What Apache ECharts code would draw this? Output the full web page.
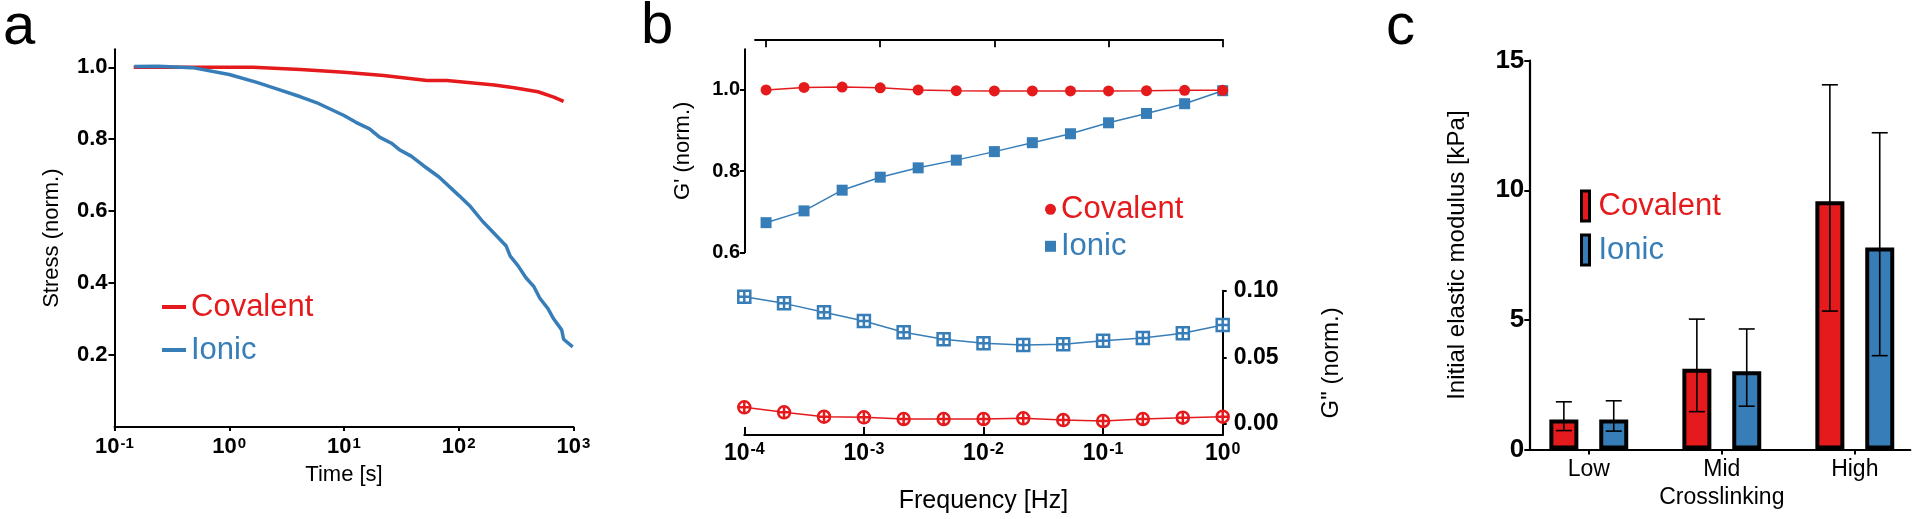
<!DOCTYPE html>
<html><head><meta charset="utf-8">
<script src="https://cdn.jsdelivr.net/npm/echarts@6/dist/echarts.min.js"></script>
<style>html,body{margin:0;padding:0;background:#fff}#c{width:1920px;height:519px}</style>
</head><body><div id="c"></div>
<script>
// ---------- Panel a: stress relaxation ----------
const timeCov   = [0.147, 0.478, 1.0, 1.61, 4.18, 10, 22.1, 53.0, 78.9, 204, 304, 490, 673, 820];
const stressCov = [1.0, 1.0, 1.0, 1.0, 0.994, 0.986, 0.977, 0.963, 0.963, 0.951, 0.943, 0.932, 0.917, 0.905];
const timeIon   = [0.149, 0.239, 0.478, 1.0, 1.74, 2.59, 4.18, 5.74, 10.0, 12.7, 16.7, 20.4, 25.9, 30.4, 38.5, 49.0, 67.3, 100, 127, 161, 204, 259, 281, 329, 385, 452, 509, 597, 673, 789, 820, 984];
const stressIon = [1.002, 1.003, 0.999, 0.980, 0.958, 0.940, 0.918, 0.902, 0.866, 0.847, 0.829, 0.806, 0.789, 0.771, 0.753, 0.727, 0.695, 0.644, 0.612, 0.572, 0.538, 0.503, 0.475, 0.448, 0.415, 0.390, 0.358, 0.330, 0.300, 0.270, 0.244, 0.223];
const timeTicks   = [0.1, 1, 10, 100, 1000];
const stressTicks = [0.2, 0.4, 0.6, 0.8, 1.0];

// ---------- Panel b: frequency sweep ----------
const freq = [0.0001, 0.000215, 0.000464, 0.001, 0.00215, 0.00464, 0.01, 0.0215, 0.0464, 0.1, 0.215, 0.464, 1];
const gpCov  = [1.0, 1.006, 1.007, 1.005, 1.0, 0.998, 0.9975, 0.9975, 0.9975, 0.9975, 0.998, 0.999, 0.999];
const gpIon  = [0.673, 0.702, 0.753, 0.785, 0.808, 0.827, 0.848, 0.870, 0.892, 0.919, 0.942, 0.966, 0.998];
const gppCov = [0.0125, 0.0087, 0.0054, 0.0050, 0.0037, 0.0037, 0.0037, 0.0042, 0.0029, 0.0022, 0.0037, 0.0047, 0.0054];
const gppIon = [0.0955, 0.0905, 0.0838, 0.0773, 0.0688, 0.0635, 0.0605, 0.0592, 0.0598, 0.0625, 0.0645, 0.0680, 0.0742];
const freqTicks = [0.0001, 0.001, 0.01, 0.1, 1];
const gpTicks   = [0.6, 0.8, 1.0];
const gppTicks  = [0, 0.05, 0.10];

// ---------- Panel c: initial elastic modulus ----------
const categories = ['Low', 'Mid', 'High'];
const covMean = [1.16, 3.12, 9.58];
const covLow  = [0.73, 1.46, 5.34];
const covHigh = [1.84, 5.03, 14.07];
const ionMean = [1.16, 3.02, 7.79];
const ionLow  = [0.71, 1.67, 3.62];
const ionHigh = [1.88, 4.65, 12.22];

const RED = '#E41A1C', BLUE = '#377EB8', BLACK = '#000';
const FONT = '"Liberation Sans", Arial, Helvetica, sans-serif';
const BAR_W = 29, BAR_GAP = 0.72, CAP_W = 16;

const zip = (a, b) => a.map((v, i) => [v, b[i]]);
const axLine = (w) => ({show: true, onZero: false, lineStyle: {color: BLACK, width: w}});
const nameStyle = (fs) => ({fontSize: fs, fontFamily: FONT, color: BLACK, fontWeight: 'normal'});
function pow10Label(fs, efs, margin, vals) {
  return {
    show: true, margin: margin, customValues: vals,
    formatter: v => '{b|10}{s|' + Math.round(Math.log10(v)) + '}',
    rich: {
      b: {fontSize: fs, fontWeight: 'bold', fontFamily: FONT, color: BLACK, lineHeight: fs},
      s: {fontSize: efs, fontWeight: 'bold', fontFamily: FONT, color: BLACK, lineHeight: efs, verticalAlign: 'top', padding: [0, 0, 0, 1]}
    }
  };
}
const SQ_CROSS = 'path://M0 0H10V10H0Z M5 0V10 M0 5H10';
const CI_PLUS  = 'path://M0 5A5 5 0 1 0 10 5A5 5 0 1 0 0 5Z M5 0V10 M0 5H10';

function errRender(offset) {
  return function (params, api) {
    const c = api.value(0), lo = api.value(1), hi = api.value(2);
    const pLo = api.coord([c, lo]), pHi = api.coord([c, hi]);
    const x = pLo[0] + offset, h = CAP_W / 2;
    const st = {stroke: BLACK, lineWidth: 1.6};
    return {type: 'group', children: [
      {type: 'line', shape: {x1: x, y1: pLo[1], x2: x, y2: pHi[1]}, style: st},
      {type: 'line', shape: {x1: x - h, y1: pHi[1], x2: x + h, y2: pHi[1]}, style: st},
      {type: 'line', shape: {x1: x - h, y1: pLo[1], x2: x + h, y2: pLo[1]}, style: st}
    ]};
  };
}
const errOffset = BAR_W * (1 + BAR_GAP) / 2;

const chart = echarts.init(document.getElementById('c'), null, {renderer: 'canvas'});
const option = {
  animation: false,
  backgroundColor: '#fff',
  textStyle: {fontFamily: FONT},
  graphic: [
    {type: 'text', x: 3, y: 28, style: {text: 'a', fontSize: 58, fontFamily: FONT, fill: BLACK, verticalAlign: 'middle', textVerticalAlign: 'middle'}},
    {type: 'text', x: 641, y: 27, style: {text: 'b', fontSize: 58, fontFamily: FONT, fill: BLACK, verticalAlign: 'middle', textVerticalAlign: 'middle'}},
    {type: 'text', x: 1386, y: 28, style: {text: 'c', fontSize: 58, fontFamily: FONT, fill: BLACK, verticalAlign: 'middle', textVerticalAlign: 'middle'}}
  ],
  grid: [
    {left: 114.5, top: 49.3, width: 459, height: 377.7, containLabel: false, outerBoundsMode: 'none'},
    {left: 755, top: 49.3, width: 467.7, height: 203, containLabel: false, outerBoundsMode: 'none'},
    {left: 744.3, top: 290.7, width: 478.4, height: 144.3, containLabel: false, outerBoundsMode: 'none'},
    {left: 1522.3, top: 60.7, width: 399, height: 388.8, containLabel: false, outerBoundsMode: 'none'},
    {left: 1529.3, top: 60.7, width: 381, height: 388.8, containLabel: false, outerBoundsMode: 'none'}
  ],
  xAxis: [
    {gridIndex: 0, type: 'log', logBase: 10, min: 0.1, max: 1000,
     name: 'Time [s]', nameLocation: 'middle', nameGap: 37, nameTextStyle: nameStyle(22),
     axisLine: axLine(2), axisTick: {show: true, length: 4, customValues: timeTicks, lineStyle: {color: BLACK, width: 2}},
     axisLabel: pow10Label(22, 15, 9, timeTicks), splitLine: {show: false}, minorTick: {show: false}},
    {gridIndex: 1, type: 'log', logBase: 10, position: 'top', offset: 10, min: 0.00008, max: 1,
     axisLine: axLine(1.8), axisTick: {show: true, inside: true, length: 8, customValues: freqTicks, lineStyle: {color: BLACK, width: 1.8}},
     axisLabel: {show: false}, splitLine: {show: false}, minorTick: {show: false}},
    {gridIndex: 2, type: 'log', logBase: 10, min: 0.0001, max: 1,
     name: 'Frequency [Hz]', nameLocation: 'middle', nameGap: 54, nameTextStyle: nameStyle(25),
     axisLine: axLine(2), axisTick: {show: true, inside: true, length: 8, customValues: freqTicks, lineStyle: {color: BLACK, width: 2}},
     axisLabel: pow10Label(23, 16, 7, freqTicks), splitLine: {show: false}, minorTick: {show: false}},
    {gridIndex: 3, type: 'category', data: categories,
     name: 'Crosslinking', nameLocation: 'middle', nameGap: 37, nameTextStyle: nameStyle(23),
     axisLine: {show: false}, axisTick: {show: true, alignWithLabel: true, length: 5, lineStyle: {color: BLACK, width: 2}},
     axisLabel: {show: true, fontSize: 23, fontFamily: FONT, color: BLACK, margin: 9}, splitLine: {show: false}},
    {gridIndex: 4, type: 'value', min: 0, max: 1,
     axisLine: axLine(2.2), axisTick: {show: false}, axisLabel: {show: false}, splitLine: {show: false}}
  ],
  yAxis: [
    {gridIndex: 0, type: 'value', min: 0, max: 1.05,
     name: 'Stress (norm.)', nameLocation: 'middle', nameGap: 52, nameTextStyle: nameStyle(22),
     axisLine: axLine(2), axisTick: {show: true, length: 6, customValues: stressTicks, lineStyle: {color: BLACK, width: 2}},
     axisLabel: {show: true, customValues: stressTicks, formatter: v => v.toFixed(1), fontSize: 22, fontWeight: 'bold', fontFamily: FONT, color: BLACK, margin: 7},
     splitLine: {show: false}},
    {gridIndex: 1, type: 'value', min: 0.6, max: 1.1, offset: 10,
     name: "G' (norm.)", nameLocation: 'middle', nameGap: 51, nameTextStyle: nameStyle(22),
     axisLine: axLine(2), axisTick: {show: true, length: 5, customValues: gpTicks, lineStyle: {color: BLACK, width: 2}},
     axisLabel: {show: true, customValues: gpTicks, formatter: v => v.toFixed(1), fontSize: 20, fontWeight: 'bold', fontFamily: FONT, color: BLACK, margin: 5},
     splitLine: {show: false}},
    {gridIndex: 2, type: 'value', position: 'right', min: -0.0083, max: 0.1,
     name: 'G" (norm.)', nameLocation: 'middle', nameGap: 97, nameTextStyle: nameStyle(24),
     axisLine: axLine(2), axisTick: {show: true, length: 4, customValues: gppTicks, lineStyle: {color: BLACK, width: 2}},
     axisLabel: {show: true, customValues: gppTicks, formatter: v => v.toFixed(2), fontSize: 23, fontWeight: 'bold', fontFamily: FONT, color: BLACK, margin: 11},
     splitLine: {show: false}},
    {gridIndex: 3, type: 'value', min: 0, max: 15, show: false, splitLine: {show: false}},
    {gridIndex: 4, type: 'value', min: 0, max: 15, interval: 5,
     name: 'Initial elastic modulus [kPa]', nameLocation: 'middle', nameGap: 60, nameTextStyle: nameStyle(24),
     axisLine: axLine(2.2), axisTick: {show: true, length: 5, lineStyle: {color: BLACK, width: 2}},
     axisLabel: {show: true, fontSize: 26, fontWeight: 'bold', fontFamily: FONT, color: BLACK, margin: 5},
     splitLine: {show: false}}
  ],
  legend: [
    {orient: 'vertical', left: 162, top: 285.5, padding: 0, itemGap: 0, itemWidth: 24, itemHeight: 4, selectedMode: false,
     textStyle: {fontSize: 31, fontFamily: FONT, lineHeight: 43},
     data: [
       {name: 'Covalent', icon: 'rect', itemStyle: {color: RED, borderWidth: 0}, textStyle: {color: RED}},
       {name: 'Ionic', icon: 'rect', itemStyle: {color: BLUE, borderWidth: 0}, textStyle: {color: BLUE}}
     ]},
    {orient: 'vertical', left: 1045, top: 190.8, padding: 0, itemGap: 0, itemWidth: 11, itemHeight: 11, selectedMode: false,
     textStyle: {fontSize: 31, fontFamily: FONT, lineHeight: 37},
     data: [
       {name: 'Covalent', icon: 'circle', itemStyle: {color: RED, borderWidth: 0}, textStyle: {color: RED}},
       {name: 'Ionic', icon: 'rect', itemStyle: {color: BLUE, borderWidth: 0}, textStyle: {color: BLUE}}
     ]},
    {orient: 'vertical', left: 1580, top: 184, padding: 0, itemGap: 0, itemWidth: 8, itemHeight: 30, selectedMode: false,
     textStyle: {fontSize: 31, fontFamily: FONT, lineHeight: 44, padding: [0, 0, 0, 4]},
     data: [
       {name: 'Covalent', icon: 'rect', itemStyle: {color: RED, borderColor: BLACK, borderWidth: 3}, textStyle: {color: RED}},
       {name: 'Ionic', icon: 'rect', itemStyle: {color: BLUE, borderColor: BLACK, borderWidth: 3}, textStyle: {color: BLUE}}
     ]}
  ],
  series: [
    {name: 'Covalent', type: 'line', xAxisIndex: 0, yAxisIndex: 0, data: zip(timeCov, stressCov),
     symbol: 'none', lineStyle: {color: RED, width: 3.5}, itemStyle: {color: RED}},
    {name: 'Ionic', type: 'line', xAxisIndex: 0, yAxisIndex: 0, data: zip(timeIon, stressIon),
     symbol: 'none', lineStyle: {color: BLUE, width: 3.5}, itemStyle: {color: BLUE}},
    {name: 'Ionic', type: 'line', xAxisIndex: 1, yAxisIndex: 1, data: zip(freq, gpIon),
     symbol: 'rect', symbolSize: 11, showAllSymbol: true, lineStyle: {color: BLUE, width: 1.5}, itemStyle: {color: BLUE}},
    {name: 'Covalent', type: 'line', xAxisIndex: 1, yAxisIndex: 1, data: zip(freq, gpCov),
     symbol: 'circle', symbolSize: 11, showAllSymbol: true, lineStyle: {color: RED, width: 1.5}, itemStyle: {color: RED}},
    {name: 'Ionic', type: 'line', xAxisIndex: 2, yAxisIndex: 2, data: zip(freq, gppIon),
     symbol: SQ_CROSS, symbolSize: 12, showAllSymbol: true, lineStyle: {color: BLUE, width: 1.5},
     itemStyle: {color: '#fff', borderColor: BLUE, borderWidth: 2.5}},
    {name: 'Covalent', type: 'line', xAxisIndex: 2, yAxisIndex: 2, data: zip(freq, gppCov),
     symbol: CI_PLUS, symbolSize: 12, showAllSymbol: true, lineStyle: {color: RED, width: 1.5},
     itemStyle: {color: '#fff', borderColor: RED, borderWidth: 2.5}},
    {name: 'Covalent', type: 'bar', xAxisIndex: 3, yAxisIndex: 3, data: covMean, barWidth: BAR_W, barGap: (BAR_GAP * 100) + '%',
     itemStyle: {color: RED, borderColor: BLACK, borderWidth: 4}},
    {name: 'Ionic', type: 'bar', xAxisIndex: 3, yAxisIndex: 3, data: ionMean, barWidth: BAR_W, barGap: (BAR_GAP * 100) + '%',
     itemStyle: {color: BLUE, borderColor: BLACK, borderWidth: 4}},
    {name: 'Covalent SD', type: 'custom', xAxisIndex: 3, yAxisIndex: 3, z: 5, renderItem: errRender(-errOffset),
     encode: {x: 0, y: [1, 2]}, data: categories.map((c, i) => [i, covLow[i], covHigh[i]])},
    {name: 'Ionic SD', type: 'custom', xAxisIndex: 3, yAxisIndex: 3, z: 5, renderItem: errRender(errOffset),
     encode: {x: 0, y: [1, 2]}, data: categories.map((c, i) => [i, ionLow[i], ionHigh[i]])}
  ]
};
chart.setOption(option);
</script></body></html>
